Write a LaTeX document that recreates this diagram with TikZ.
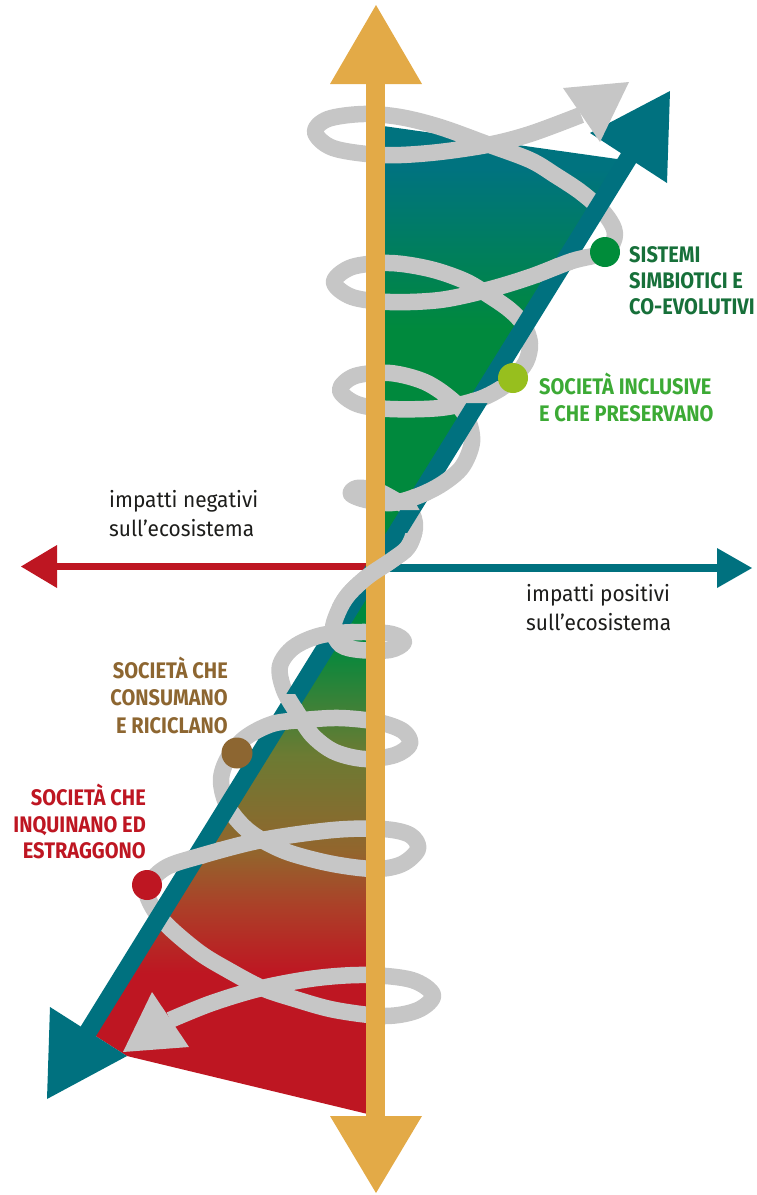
\documentclass[tikz,border=0pt]{standalone}
\usepackage{fontspec}
\setmainfont{Fira Sans}
\newfontfamily\labfont[FakeStretch=0.89]{Fira Sans}
\newfontfamily\impfont[FakeStretch=0.95]{Fira Sans}
\usetikzlibrary{calc}

\definecolor{cOrange}{HTML}{E3AA47}
\definecolor{cTeal}{HTML}{00717F}
\definecolor{cRed}{HTML}{BE1622}
\definecolor{cGray}{HTML}{C6C6C6}
\definecolor{cGreenDot}{HTML}{008C3A}
\definecolor{cGreenTxt}{HTML}{17703A}
\definecolor{cLimeDot}{HTML}{97BF1E}
\definecolor{cLimeTxt}{HTML}{3CAA35}
\definecolor{cBrown}{HTML}{8D6631}
\definecolor{cInk}{HTML}{1D1D1B}
\definecolor{gTeal}{HTML}{00737F}
\definecolor{gGreen}{HTML}{00893D}
\definecolor{gOlive}{HTML}{6B7B33}
\definecolor{gBrA}{HTML}{93652D}
\definecolor{gBrB}{HTML}{AC3F28}

\pgfdeclareverticalshading{upshade}{100bp}{color(0bp)=(gGreen); color(52bp)=(gGreen); color(70bp)=(gTeal); color(100bp)=(gTeal)}
\pgfdeclareverticalshading{lowshade}{100bp}{color(0bp)=(cRed); color(38bp)=(cRed); color(44bp)=(gBrB); color(49bp)=(gBrA); color(58bp)=(gOlive); color(68bp)=(gGreen); color(100bp)=(gGreen)}

\newcommand\drawspiral{%
\draw[cGray, line width=16.5pt]
 plot[smooth, tension=0.55] coordinates {
 (170,1020) (212,1003) (262,988) (317,978) (367,975) (412,980) (433,995)
 (418,1010) (385,1016) (335,1010) (295,999) (262,988) (228,970) (200,953)
 (170,928) (153,908) (147,888) (165,868) (200,856) (262,840) (333,830)
 (383,829) (410,835) (418,849) (402,864) (375,869) (333,864) (290,853)
 (262,840) (243,826) (227,805) (221,780) (228,758) (245,738) (272,724)
 (303,720) (340,718) (378,722) (403,731) (410,744) (395,755) (365,759)
 (335,752) (313,736) (298,714) (284,690) (280,666) (294,647) (322,635)
 (360,632) (392,634) (404,642) (390,650) (360,650) (341,645) (333,630)
 (338,612) (348,595) (367,577) (392,560) (408,547) (415,527) (410,510)
 (395,500) (375,490) (357,488) (351,494) (366,500) (392,503) (418,496)
 (442,484) (462,467) (472,442) (467,418) (452,400) (425,382) (390,373)
 (355,376) (340,390) (357,404) (390,409) (440,408) (477,400) (500,389)
 (513,378) (526,362) (530,343) (523,324) (510,310) (490,296) (465,281)
 (430,269) (390,263) (352,267) (334,282) (352,297) (390,302) (440,300)
 (487,290) (530,277) (572,261) (605,252) (615,234) (605,214) (582,193)
 (555,175) (530,160) (487,144) (440,127) (400,117) (363,114) (328,119)
 (315,132) (333,148) (380,155) (430,153) (487,145) (530,134) (581,115)};}

\tikzset{
  lab/.style={font=\labfont\bfseries\fontsize{22.5}{27}\selectfont, inner sep=0pt},
  imp/.style={font=\impfont\fontsize{22}{26}\selectfont, inner sep=0pt, text=cInk}
}

\begin{document}
\begin{tikzpicture}[x=1pt, y=-1pt, line join=round]
\useasboundingbox (0,0) rectangle (756,1195);

% named reference points
\coordinate (Otop) at (376,5);
\coordinate (Obot) at (376,1193);
\coordinate (Lend) at (21,566.5);
\coordinate (Rend) at (752,568);
\coordinate (Ttop) at (670,91);
\coordinate (Tbot) at (47,1099);

% gradient cone areas
\shade[shading=upshade] (376,125) -- (617,159) -- (628.5,158) -- (376,567) -- cycle;
\shade[shading=lowshade] (376,567) -- (376,1116) -- (127,1056) -- (88.5,1031.5) -- cycle;

% horizontal axis
\fill[cRed] (56,563) rectangle (367,570);
\fill[cRed] (57,545) -- (Lend) -- (57,588) -- cycle;
\fill[cTeal] (384,564) rectangle (718,571.5);
\fill[cTeal] (717,548) -- (Rend) -- (717,588) -- cycle;

% grey spiral (back)
\drawspiral

% teal diagonal arrow
\draw[cTeal, line width=18pt] (86,1035) -- (631,154);
\fill[cTeal] (50,1007) -- (Tbot) -- (127,1056) -- cycle;
\fill[cTeal] (590,133) -- (Ttop) -- (667,183) -- cycle;

% grey in front of teal at some crossings
\begin{scope}\clip (561,246) -- (587,246) -- (560,290) -- (534,290) -- cycle; \drawspiral \end{scope}
\begin{scope}\clip (478,381) -- (504,381) -- (490,403) -- (464,403) -- cycle; \drawspiral \end{scope}
\begin{scope}\clip (432,455) -- (458,455) -- (424,510) -- (398,510) -- cycle; \drawspiral \end{scope}
\begin{scope}\clip (339,605) -- (365,605) -- (334,656) -- (308,656) -- cycle; \drawspiral \end{scope}
\begin{scope}\clip (284,694) -- (310,694) -- (281,742) -- (255,742) -- cycle; \drawspiral \end{scope}
\begin{scope}\clip (193,842) -- (219,842) -- (199,874) -- (173,874) -- cycle; \drawspiral \end{scope}

% grey arrow heads
\fill[cGray] (563,88) -- (629,82) -- (600,142) -- cycle;
\fill[cGray] (152,992) -- (123,1052) -- (189,1047) -- cycle;

% vertical orange axis
\fill[cOrange] (366,83) rectangle (385,1117);
\fill[cOrange] (330,84) -- (Otop) -- (422,84) -- cycle;
\fill[cOrange] (330,1116) -- (Obot) -- (422,1116) -- cycle;

% S of the spiral in front of the axis
\begin{scope}\clip (328,533) rectangle (424,604); \drawspiral \end{scope}

% dots
\fill[cGreenDot] (605,252) circle[radius=15];
\fill[cLimeDot] (513,378) circle[radius=15];
\fill[cBrown] (237,753) circle[radius=15.5];
\fill[cRed] (147,885) circle[radius=15];

% labels
\node[lab, text=cGreenTxt, anchor=base west] (s1) at (629,262) {SISTEMI};
\node[lab, text=cGreenTxt, anchor=base west] (s2) at (629,288) {SIMBIOTICI E};
\node[lab, text=cGreenTxt, anchor=base west] (s3) at (629,314) {CO-EVOLUTIVI};

\node[lab, text=cLimeTxt, anchor=base west] (i1) at (539,394) {SOCIETÀ INCLUSIVE};
\node[lab, text=cLimeTxt, anchor=base west] (i2) at (539,421) {E CHE PRESERVANO};

\node[lab, text=cBrown, anchor=base east] (c1) at (228,678) {SOCIETÀ CHE};
\node[lab, text=cBrown, anchor=base east] (c2) at (228,705) {CONSUMANO};
\node[lab, text=cBrown, anchor=base east] (c3) at (228,733) {E RICICLANO};

\node[lab, text=cRed, anchor=base east] (q1) at (146,805) {SOCIETÀ CHE};
\node[lab, text=cRed, anchor=base east] (q2) at (146,832) {INQUINANO ED};
\node[lab, text=cRed, anchor=base east] (q3) at (146,858) {ESTRAGGONO};

\node[imp, anchor=base west] (n1) at (109,507) {impatti negativi};
\node[imp, anchor=base west] (n2) at (109,536) {sull’ecosistema};
\node[imp, anchor=base west] (p1) at (526,601) {impatti positivi};
\node[imp, anchor=base west] (p2) at (526,630) {sull’ecosistema};
\end{tikzpicture}
\end{document}
